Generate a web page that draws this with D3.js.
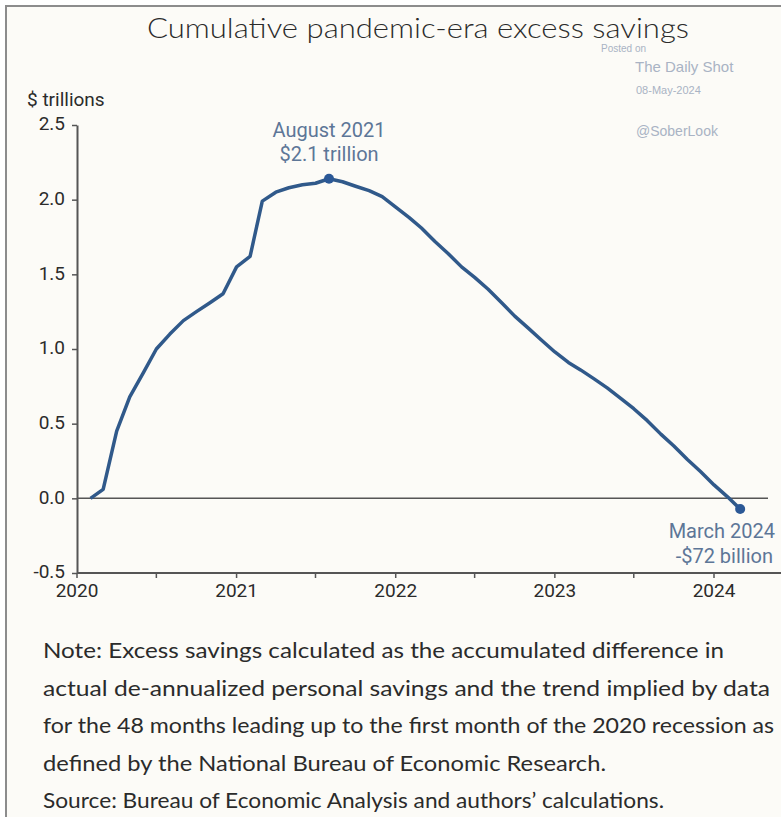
<!DOCTYPE html>
<html>
<head>
<meta charset="utf-8">
<script src="https://cdn.jsdelivr.net/npm/d3@7/dist/d3.min.js"></script>
<style>
  html, body { margin: 0; padding: 0; background: #ffffff; }
  svg { display: block; }
</style>
</head>
<body>
<svg id="chart" width="781" height="817"></svg>
<script>
// Monthly cumulative excess savings, $ trillions, Feb 2020 - Mar 2024
const months = [
  "2020-02","2020-03","2020-04","2020-05","2020-06","2020-07","2020-08","2020-09","2020-10","2020-11","2020-12",
  "2021-01","2021-02","2021-03","2021-04","2021-05","2021-06","2021-07","2021-08","2021-09","2021-10","2021-11","2021-12",
  "2022-01","2022-02","2022-03","2022-04","2022-05","2022-06","2022-07","2022-08","2022-09","2022-10","2022-11","2022-12",
  "2023-01","2023-02","2023-03","2023-04","2023-05","2023-06","2023-07","2023-08","2023-09","2023-10","2023-11","2023-12",
  "2024-01","2024-02","2024-03"
];
const savings = [
  0.00, 0.06, 0.45, 0.68, 0.84, 1.00, 1.10, 1.19, 1.25, 1.31, 1.37,
  1.55, 1.62, 1.99, 2.05, 2.08, 2.10, 2.11, 2.14, 2.12, 2.09, 2.06, 2.02,
  1.95, 1.88, 1.81, 1.72, 1.64, 1.55, 1.48, 1.40, 1.31, 1.22, 1.14, 1.06,
  0.98, 0.91, 0.86, 0.80, 0.74, 0.67, 0.60, 0.52, 0.43, 0.35, 0.26, 0.18,
  0.09, 0.01, -0.072
];
const yTicks = [-0.5, 0.0, 0.5, 1.0, 1.5, 2.0, 2.5];
const xYears = [2020, 2021, 2022, 2023, 2024];
const noteLines = [
  "Note: Excess savings calculated as the accumulated difference in",
  "actual de-annualized personal savings and the trend implied by data",
  "for the 48 months leading up to the first month of the 2020 recession as",
  "defined by the National Bureau of Economic Research.",
  "Source: Bureau of Economic Analysis and authors\u2019 calculations."
];

const parseMonth = d3.timeParse("%Y-%m");
const data = months.map((m, i) => ({ date: parseMonth(m), value: savings[i] }));

const svg = d3.select("#chart");
const HEAD = "Lato, 'Open Sans', sans-serif";
const BODY = "Roboto, 'Open Sans', sans-serif";
const MARKF = "'Liberation Sans', Arial, sans-serif";
const INK = "#2b2b2b";
const LINE = "#30598a";
const ANNO = "#5d7697";
const MARK = "#a9b3c4";
const fmt = d3.formatLocale({ decimal: ".", thousands: ",", grouping: [3], currency: ["$", ""], minus: "-" });

// panel with frame
svg.append("rect").attr("x", 6).attr("y", 6).attr("width", 790).attr("height", 830)
  .attr("fill", "#fcfbf7").attr("stroke", "#8c8c8c").attr("stroke-width", 2);

// scales
const x = d3.scaleTime()
  .domain([new Date(2020, 0, 1), new Date(2024, 0, 1)])
  .range([77, 714]);
const y = d3.scaleLinear().domain([-0.5, 2.5]).range([573, 125]);

// title
svg.append("text").attr("x", 418).attr("y", 38).attr("text-anchor", "middle")
  .attr("font-family", HEAD).attr("font-size", 27).attr("font-weight", 300).attr("fill", INK)
  .attr("textLength", 542).attr("lengthAdjust", "spacingAndGlyphs")
  .text("Cumulative pandemic-era excess savings");

// source marks
svg.append("text").attr("x", 601).attr("y", 52).attr("font-family", MARKF)
  .attr("font-size", 10).attr("fill", MARK).text("Posted on");
svg.append("text").attr("x", 635).attr("y", 72).attr("font-family", MARKF)
  .attr("font-size", 15).attr("fill", MARK).text("The Daily Shot");
svg.append("text").attr("x", 636).attr("y", 94).attr("font-family", MARKF)
  .attr("font-size", 11).attr("fill", MARK).text("08-May-2024");
svg.append("text").attr("x", 636).attr("y", 136).attr("font-family", MARKF)
  .attr("font-size", 14).attr("fill", MARK).text("@SoberLook");

// y axis
const yAxis = svg.append("g").attr("transform", "translate(77,0)")
  .call(d3.axisLeft(y).tickValues(yTicks).tickFormat(fmt.format(".1f")).tickSize(5).tickSizeOuter(0));
yAxis.select(".domain").attr("stroke", "#555").attr("stroke-width", 2);
yAxis.selectAll(".tick line").attr("stroke", "#555").attr("stroke-width", 1.5);
yAxis.selectAll(".tick text").attr("font-family", BODY).attr("font-size", 19)
  .attr("fill", INK).attr("x", -12).attr("dy", "0.25em");

svg.append("text").attr("x", 27).attr("y", 106).attr("font-family", BODY)
  .attr("font-size", 19).attr("fill", INK).text("$ trillions");

// x axis: years labelled, half-years as minor ticks
const xAxisG = svg.append("g").attr("transform", "translate(0,573)");
xAxisG.append("line").attr("x1", 77).attr("x2", 781).attr("stroke", "#555").attr("stroke-width", 2);
const halfYears = d3.timeMonth.every(6).range(new Date(2020, 0, 1), new Date(2024, 6, 2));
xAxisG.selectAll("line.tk").data(halfYears).join("line").attr("class", "tk")
  .attr("x1", d => x(d)).attr("x2", d => x(d)).attr("y1", 0).attr("y2", 5)
  .attr("stroke", "#555").attr("stroke-width", 1.5);
xAxisG.selectAll("text").data(xYears).join("text")
  .attr("x", d => x(new Date(d, 0, 1))).attr("y", 24).attr("text-anchor", "middle")
  .attr("font-family", BODY).attr("font-size", 19).attr("fill", INK).text(d => d);

// zero line
svg.append("line").attr("x1", 77).attr("x2", 768).attr("y1", y(0)).attr("y2", y(0))
  .attr("stroke", "#555").attr("stroke-width", 1.5);

// series
svg.append("path").datum(data)
  .attr("fill", "none").attr("stroke", LINE).attr("stroke-width", 3.5)
  .attr("stroke-linejoin", "round")
  .attr("d", d3.line().x(d => x(d.date)).y(d => y(d.value)));

// peak and latest markers
const peak = data.reduce((a, b) => (b.value > a.value ? b : a));
const last = data[data.length - 1];
svg.selectAll("circle.mk").data([peak, last]).join("circle").attr("class", "mk")
  .attr("cx", d => x(d.date)).attr("cy", d => y(d.value)).attr("r", 5).attr("fill", "#2b5896");

svg.append("text").attr("x", x(peak.date)).attr("y", 137).attr("text-anchor", "middle")
  .attr("font-family", BODY).attr("font-size", 20).attr("fill", ANNO)
  .text(d3.timeFormat("%B %Y")(peak.date));
svg.append("text").attr("x", x(peak.date)).attr("y", 161).attr("text-anchor", "middle")
  .attr("font-family", BODY).attr("font-size", 20).attr("fill", ANNO)
  .text("$" + fmt.format(".1f")(peak.value) + " trillion");

svg.append("text").attr("x", 775).attr("y", 538).attr("text-anchor", "end")
  .attr("font-family", BODY).attr("font-size", 20).attr("fill", ANNO)
  .text(d3.timeFormat("%B %Y")(last.date));
svg.append("text").attr("x", 773).attr("y", 563).attr("text-anchor", "end")
  .attr("font-family", BODY).attr("font-size", 20).attr("fill", ANNO)
  .text("-$" + Math.round(Math.abs(last.value) * 1000) + " billion");

// note
const noteWidths = [681, 727, 731, 563, 621];
svg.selectAll("text.note").data(noteLines).join("text").attr("class", "note")
  .attr("x", 43).attr("y", (d, i) => 658 + i * 37.5)
  .attr("font-family", HEAD).attr("font-size", 21).attr("fill", INK)
  .attr("textLength", (d, i) => noteWidths[i]).attr("lengthAdjust", "spacingAndGlyphs")
  .text(d => d);
</script>
</body>
</html>
